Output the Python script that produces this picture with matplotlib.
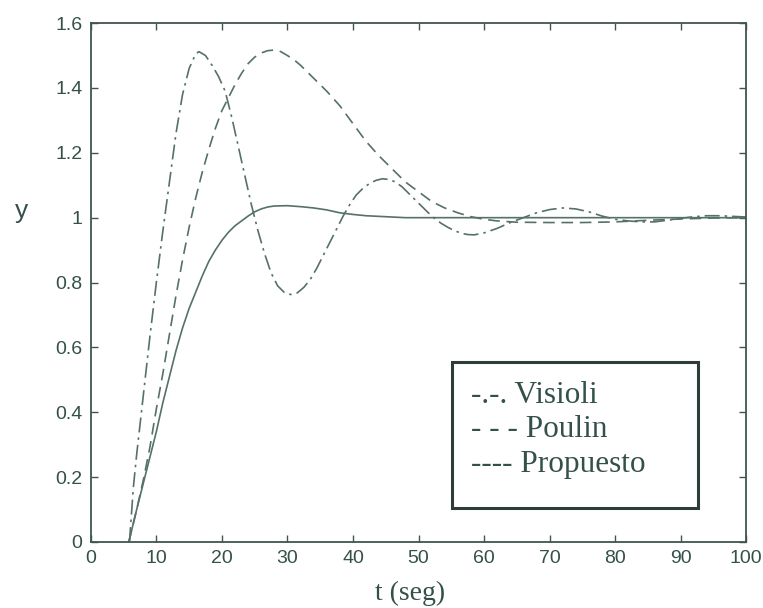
import matplotlib
matplotlib.use("Agg")
import matplotlib.pyplot as plt
from matplotlib.patches import Rectangle

# ---- data ----
t_visioli = [5.9, 6.5, 7.0, 7.5, 8.0, 9.0, 10.0, 11.0, 12.0, 13.0, 14.0, 15.0, 16.0, 16.5, 17.5,
             18.5, 19.5, 20.5, 21.5, 22.5, 23.5, 24.5, 25.5, 26.5, 27.5, 28.5, 29.5, 30.5, 31.5,
             32.5, 33.5, 34.5, 35.5, 36.5, 37.5, 38.5, 39.5, 40.5, 41.5, 42.5, 43.5, 44.5, 45.5,
             46.5, 47.5, 48.5, 49.5, 50.5, 51.5, 52.5, 53.5, 54.5, 55.5, 56.5, 57.5, 58.5, 60.0,
             62.0, 64.0, 66.0, 68.0, 70.0, 72.0, 74.0, 76.0, 78.0, 80.0, 82.0, 84.0, 86.0, 88.0,
             90.0, 92.0, 94.0, 96.0, 98.0, 100.0]
y_visioli = [0.0, 0.17, 0.27, 0.36, 0.45, 0.63, 0.80, 0.96, 1.11, 1.26, 1.38, 1.46, 1.505, 1.512, 1.50,
             1.47, 1.435, 1.39, 1.31, 1.22, 1.13, 1.04, 0.96, 0.89, 0.83, 0.79, 0.77, 0.763, 0.768,
             0.785, 0.81, 0.845, 0.885, 0.925, 0.965, 1.005, 1.04, 1.07, 1.09, 1.105, 1.115, 1.12, 1.118,
             1.11, 1.095, 1.075, 1.055, 1.035, 1.015, 0.997, 0.982, 0.97, 0.96, 0.952, 0.948, 0.947, 0.953,
             0.967, 0.985, 1.0, 1.015, 1.025, 1.03, 1.027, 1.018, 1.005, 0.995, 0.99, 0.987, 0.987, 0.992,
             0.998, 1.003, 1.006, 1.006, 1.004, 1.002]

t_poulin = [5.8, 7, 8, 9, 10, 11, 12, 13, 14, 15, 16, 17, 18, 19, 20, 21, 22, 23, 24, 25, 26, 27,
            28, 29, 30, 31, 32, 34, 36, 38, 40, 42, 44, 46, 48, 50, 52, 54, 56, 58, 60, 62, 65,
            70, 75, 80, 85, 90, 95, 100]
y_poulin = [0.0, 0.10, 0.19, 0.29, 0.41, 0.52, 0.64, 0.76, 0.87, 0.97, 1.06, 1.14, 1.21, 1.275, 1.33,
            1.37, 1.41, 1.445, 1.475, 1.495, 1.508, 1.515, 1.517, 1.512, 1.50, 1.487, 1.47, 1.43, 1.39,
            1.345, 1.29, 1.235, 1.19, 1.15, 1.11, 1.08, 1.05, 1.03, 1.015, 1.003, 0.995, 0.99, 0.986,
            0.985, 0.985, 0.987, 0.992, 0.996, 0.999, 1.0]

t_propuesto = [5.8, 7, 8, 9, 10, 11, 12, 13, 14, 15, 16, 17, 18, 19, 20, 21, 22, 23, 24, 25, 26, 27,
               28, 30, 32, 34, 36, 38, 40, 42, 45, 48, 60, 80, 100]
y_propuesto = [0.0, 0.10, 0.18, 0.26, 0.34, 0.43, 0.51, 0.59, 0.66, 0.72, 0.77, 0.82, 0.865, 0.90, 0.93,
               0.955, 0.975, 0.99, 1.005, 1.018, 1.027, 1.033, 1.036, 1.037, 1.034, 1.03, 1.024, 1.015,
               1.01, 1.006, 1.003, 1.0, 1.0, 1.0, 1.0]

legend_labels = ["-.-. Visioli", "- - - Poulin", "---- Propuesto"]
x_ticks = list(range(0, 101, 10))
y_ticks = [0, 0.2, 0.4, 0.6, 0.8, 1.0, 1.2, 1.4, 1.6]
y_ticklabels = ["0", "0.2", "0.4", "0.6", "0.8", "1", "1.2", "1.4", "1.6"]

# ---- styling ----
line_col = "#56706a"
axis_col = "#3f5550"
text_col = "#34504a"

fig = plt.figure(figsize=(7.63, 6.08), dpi=100)
ax = fig.add_axes([0.119, 0.1086, 0.859, 0.8534])

ax.plot(t_visioli, y_visioli, color=line_col, lw=1.2, linestyle=(0, (9, 3, 1.5, 3)))
ax.plot(t_poulin, y_poulin, color=line_col, lw=1.2, linestyle=(0, (7, 4)))
ax.plot(t_propuesto, y_propuesto, color=line_col, lw=1.2, linestyle="-")

ax.set_xlim(0, 100)
ax.set_ylim(0, 1.6)
ax.set_xticks(x_ticks)
ax.set_xticklabels([str(v) for v in x_ticks])
ax.set_yticks(y_ticks)
ax.set_yticklabels(y_ticklabels)

for sp in ax.spines.values():
    sp.set_color(axis_col)
    sp.set_linewidth(1.3)

ax.tick_params(direction="in", length=5, width=1.0, color=axis_col,
               top=True, right=True, labelsize=14, labelcolor=text_col, pad=6)
for lbl in ax.get_xticklabels() + ax.get_yticklabels():
    lbl.set_fontfamily("Liberation Sans")

ax.set_xlabel("t (seg)", fontsize=20, family="Liberation Serif", color=text_col)
ax.xaxis.set_label_coords(0.487, -0.075)
ax.set_ylabel("y", fontsize=19, family="Liberation Sans", color=text_col,
              rotation=0, va="center", ha="center")
ax.yaxis.set_label_coords(-0.105, 0.638)

# legend box (drawn as text box like the reference)
ax.add_patch(Rectangle((55.1, 0.105), 37.6, 0.45, fill=False, edgecolor="#2f3d3a",
                       lw=2.2, zorder=5))
legend_y = [0.4285, 0.3237, 0.2158]
for lab, yy in zip(legend_labels, legend_y):
    ax.text(58.0, yy, lab, fontsize=22.5, family="Liberation Serif", color=text_col,
            va="baseline", ha="left", zorder=6)

fig.savefig("out.png", dpi=100)
